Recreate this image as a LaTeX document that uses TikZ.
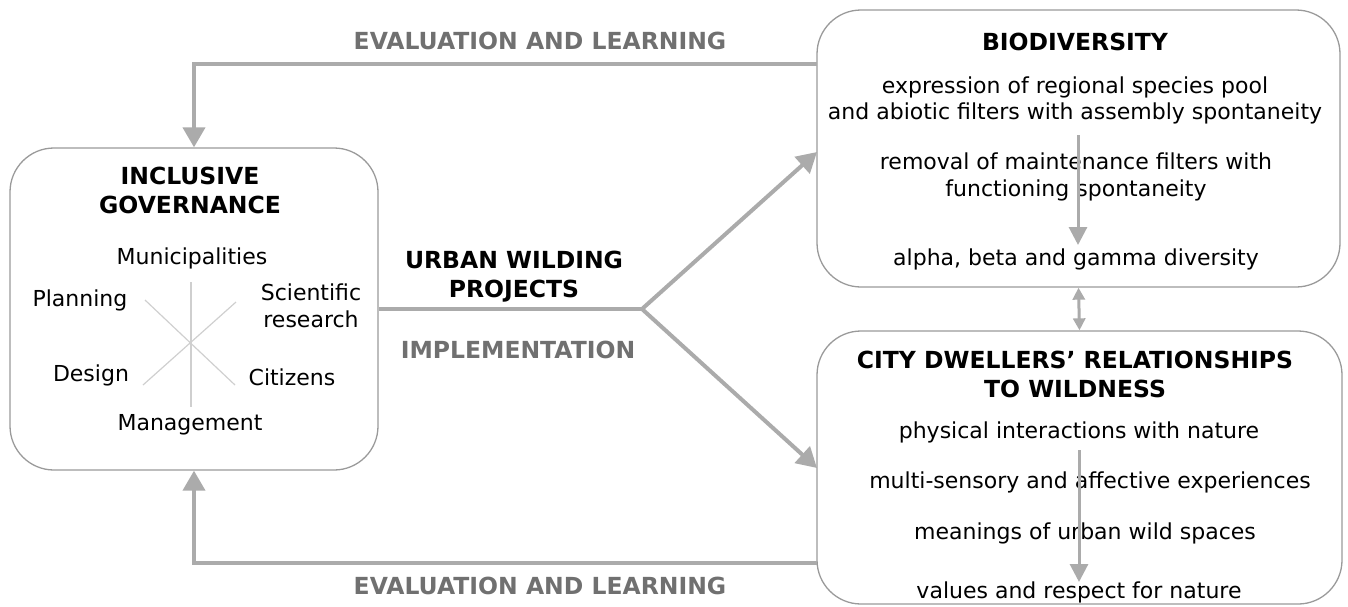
\documentclass[tikz,border=0pt]{standalone}
\usepackage{fontspec}
\setmainfont{DejaVu Sans}
\usetikzlibrary{arrows.meta,calc}
\definecolor{linegray}{HTML}{ABABAB}
\definecolor{boxgray}{HTML}{9A9A9A}
\definecolor{labgray}{HTML}{707070}
\definecolor{stargray}{HTML}{CFCFCF}
\tikzset{
  box/.style={draw=boxgray, line width=1.3pt, rounded corners=44pt, inner sep=0pt},
  conn/.style={draw=linegray, line width=4pt, -{Triangle[length=20pt,width=22pt]}},
  plainconn/.style={draw=linegray, line width=4pt},
  inner/.style={draw=linegray, line width=3pt, -{Triangle[length=18pt,width=18pt]}},
  dbl/.style={draw=linegray, line width=3pt, {Triangle[length=12pt,width=12pt]}-{Triangle[length=12pt,width=12pt]}},
  star/.style={draw=stargray, line width=1.2pt},
  body/.style={font=\fontsize{22}{26.5}\selectfont, align=center, inner sep=0pt},
  ttl/.style={font=\fontsize{23.5}{29}\selectfont\bfseries, align=center, inner sep=0pt},
  lab/.style={font=\fontsize{23.5}{29}\selectfont\bfseries, text=labgray, inner sep=0pt},
}
\begin{document}
\begin{tikzpicture}[x=1pt,y=-1pt]
\useasboundingbox (0,0) rectangle (1348,606);
% boxes
\node[box, minimum width=368pt, minimum height=322pt] (gov) at (194,309) {};
\node[box, minimum width=523pt, minimum height=277pt] (bio) at (1078.5,148.5) {};
\node[box, minimum width=525pt, minimum height=273pt] (city) at (1079.5,467.5) {};
% governance content
\node[ttl] (govt) at (190,190) {INCLUSIVE\\GOVERNANCE};
\node[body] (mun) at (192,258) {Municipalities};
\node[body] (pla) at (80,300) {Planning};
\node[body] (sci) at (311,306) {Scientific\\research};
\node[body] (des) at (91,375) {Design};
\node[body] (cit) at (292,377) {Citizens};
\node[body] (man) at (190,425) {Management};
\draw[star] (191,282) -- (191,407);
\draw[star] (145,300) -- (235,385);
\draw[star] (143,385) -- (236,302);
% biodiversity content
\node[ttl] (biot) at (1075,42) {BIODIVERSITY};
\node[body] (b1) at (1075,100.5) {expression of regional species pool\\and abiotic filters with assembly spontaneity};
\node[body] (b2) at (1076,177) {removal of maintenance filters with\\functioning spontaneity};
\node[body] (b3) at (1076,259) {alpha, beta and gamma diversity};
\coordinate (bs) at (1078,135);
\coordinate (be) at (1078,245);
\draw[inner] (bs) -- (be);
% city content
\node[ttl] (cityt) at (1075,374) {CITY DWELLERS’ RELATIONSHIPS\\TO WILDNESS};
\node[body] (c1) at (1079,432) {physical interactions with nature};
\node[body] (c2) at (1090,482) {multi-sensory and affective experiences};
\node[body] (c3) at (1085,533) {meanings of urban wild spaces};
\node[body] (c4) at (1079,592) {values and respect for nature};
\coordinate (cs) at (1079,450);
\coordinate (ce) at (1079,582);
\draw[inner] (cs) -- (ce);
% double arrow
\draw[dbl] (bio.south) -- (city.north);
% feedback loops
\coordinate (t1) at (817,64);
\coordinate (t2) at (817,563);
\draw[conn] (t1) -| (gov.north);
\draw[conn] (t2) -| (gov.south);
\node[lab] (ev1) at (540,41) {EVALUATION AND LEARNING};
\node[lab] (ev2) at (540,586) {EVALUATION AND LEARNING};
% wilding
\coordinate (fork) at (642,309);
\coordinate (up) at (817,152);
\coordinate (dn) at (817,468);
\draw[plainconn] (gov.east) -- (fork);
\draw[conn] (fork) -- (up);
\draw[conn] (fork) -- (dn);
\node[ttl] (uw) at (514,276.5) {URBAN WILDING\\PROJECTS};
\node[lab] (imp) at (518,350) {IMPLEMENTATION};
\end{tikzpicture}
\end{document}
